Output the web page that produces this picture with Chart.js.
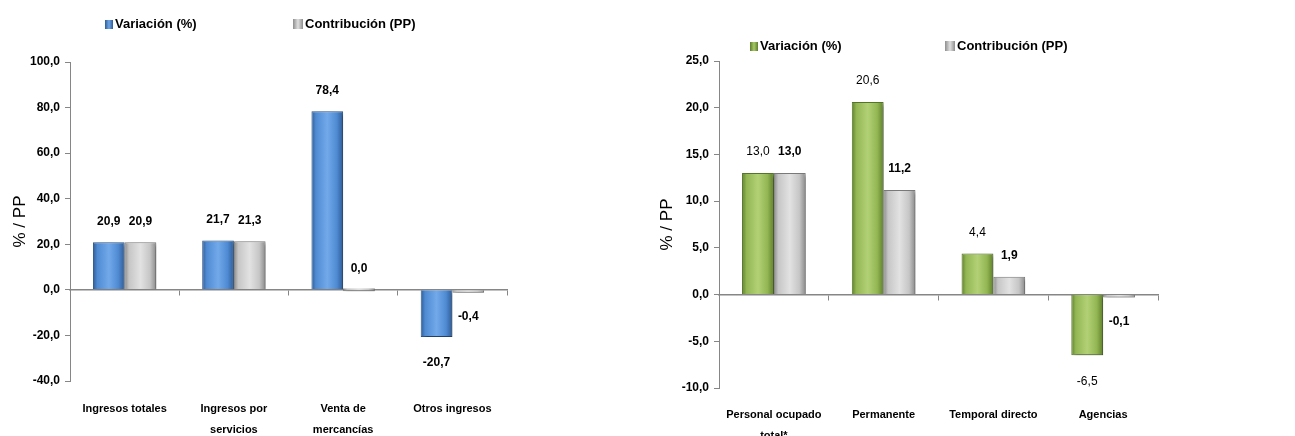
<!DOCTYPE html>
<html><head><meta charset="utf-8">
<script src="https://cdn.jsdelivr.net/npm/chart.js@4.4.1/dist/chart.umd.min.js"></script>
<style>
html,body{margin:0;padding:0;background:#fff;width:1295px;height:436px;overflow:hidden;}
.wrap{position:absolute;top:0;height:436px;}
.legend{position:absolute;font:bold 13px 'Liberation Sans',Arial,sans-serif;color:#000;white-space:nowrap;line-height:16px;}
.legend span{display:inline-flex;align-items:center;position:absolute;top:0;}
.legend i{display:inline-block;width:8px;height:9px;margin-right:2px;}
</style></head><body>
<div class="wrap" style="left:0;width:520px"><canvas id="c1" width="520" height="436"></canvas></div>
<div class="wrap" style="left:640px;width:530px"><canvas id="c2" width="530" height="436"></canvas></div>
<div class="legend" style="left:0;top:16px;width:640px;height:16px">
  <span style="left:105px"><i style="background:linear-gradient(90deg,#2E5C96,#6FA6E6,#2E5C96)"></i>Variación (%)</span>
  <span style="left:293px"><i style="background:linear-gradient(90deg,#8E8E8E,#E0E0E0,#8E8E8E);width:10px;height:10px"></i>Contribución (PP)</span>
</div>
<div class="legend" style="left:0;top:38px;width:1295px;height:16px">
  <span style="left:750px"><i style="background:linear-gradient(90deg,#5E7F2A,#A8C868,#5E7F2A)"></i>Variación (%)</span>
  <span style="left:945px"><i style="background:linear-gradient(90deg,#8E8E8E,#E0E0E0,#8E8E8E);width:10px;height:10px"></i>Contribución (PP)</span>
</div>
<script>
// ---- data ----
const leftCategories = ['Ingresos totales', ['Ingresos por', 'servicios'], ['Venta de', 'mercancías'], 'Otros ingresos'];
const leftVariacion = [20.9, 21.7, 78.4, -20.7];
const leftContribucion = [20.9, 21.3, 0.0, -0.4];
const leftAxisRange = [-40, 100, 20];

const rightCategories = [['Personal ocupado', 'total*'], 'Permanente', 'Temporal directo', 'Agencias'];
const rightVariacion = [13.0, 20.6, 4.4, -6.5];
const rightContribucion = [13.0, 11.2, 1.9, -0.1];
const rightAxisRange = [-10, 25, 5];

const seriesNames = ['Variación (%)', 'Contribución (PP)'];

// ---- helpers ----
const FONT = "'Liberation Sans', Arial, sans-serif";
function fmt(v) { return Number(v).toFixed(1).replace('.', ','); }

function barGradient(dark, mid, light) {
  return function (ctx) {
    const meta = ctx.chart.getDatasetMeta(ctx.datasetIndex);
    const el = meta && meta.data[ctx.dataIndex];
    if (!el || !isFinite(el.x) || !isFinite(el.width) || !el.width) return mid;
    const x0 = el.x - el.width / 2, x1 = el.x + el.width / 2;
    const g = ctx.chart.ctx.createLinearGradient(x0, 0, x1, 0);
    g.addColorStop(0, dark);
    g.addColorStop(0.14, mid);
    g.addColorStop(0.5, light);
    g.addColorStop(0.8, mid);
    g.addColorStop(1, dark);
    return g;
  };
}

const shadowPlugin = {
  id: 'barShadow',
  beforeDatasetsDraw(chart) {
    const c = chart.ctx;
    c.save();
    c.shadowColor = 'rgba(0,0,0,0.35)';
    c.shadowOffsetX = 3;
    c.shadowOffsetY = 2;
    c.shadowBlur = 3;
  },
  afterDatasetsDraw(chart) { chart.ctx.restore(); }
};

const valueLabels = {
  id: 'valueLabels',
  afterDatasetsDraw(chart) {
    const c = chart.ctx;
    const ys = chart.scales.y;
    chart.data.datasets.forEach((ds, di) => {
      const meta = chart.getDatasetMeta(di);
      meta.data.forEach((bar, i) => {
        const v = ds.data[i];
        const py = ys.getPixelForValue(v);
        c.save();
        c.font = (ds.labelBold ? 'bold ' : '') + '12px ' + FONT;
        c.fillStyle = '#000';
        c.textAlign = 'center';
        c.textBaseline = 'middle';
        c.fillText(fmt(v), bar.x, v >= 0 ? py - 21 : py + 26);
        c.restore();
      });
    });
  }
};

function makeChart(id, cats, s1, s2, range, colors1, boldFirst, geom) {
  const [min, max, step] = range;
  const chart = new Chart(document.getElementById(id), {
    type: 'bar',
    data: {
      labels: cats,
      datasets: [
        { label: seriesNames[0], data: s1, xAxisID: 'x', yAxisID: 'y',
          backgroundColor: barGradient(colors1[0], colors1[1], colors1[2]),
          borderColor: colors1[3], borderWidth: 1, labelBold: boldFirst,
          categoryPercentage: 0.58, barPercentage: 1 },
        { label: seriesNames[1], data: s2, xAxisID: 'x', yAxisID: 'y',
          backgroundColor: barGradient('#8A8A8A', '#C6C6C6', '#E2E2E2'),
          borderColor: '#7A7A7A', borderWidth: 1, labelBold: true, minBarLength: 3,
          categoryPercentage: 0.58, barPercentage: 1 }
      ]
    },
    options: {
      responsive: false,
      animation: false,
      layout: { padding: { top: geom.top, right: geom.right, left: 0, bottom: 0 } },
      plugins: { legend: { display: false }, tooltip: { enabled: false } },
      scales: {
        x: {
          offset: true,
          grid: { display: false },
          border: { display: false },
          ticks: { color: '#000', autoSkip: false, maxRotation: 0, padding: geom.xpad,
                   font: { family: FONT, size: 11, weight: 'bold', lineHeight: 1.85 } },
          afterFit(s) { s.height = geom.xh; }
        },
        x2: {
          type: 'category',
          labels: cats,
          offset: true,
          position: { y: 0 },
          grid: { display: true, offset: true, drawOnChartArea: false, drawTicks: true, tickLength: 5, color: '#868686', lineWidth: 1 },
          border: { display: true, color: '#868686', width: 1.5 },
          ticks: { display: false },
          afterFit(s) { s.height = 0; }
        },
        y: {
          min: min, max: max,
          ticks: { stepSize: step, color: '#000', padding: 5,
                   font: { family: FONT, size: 12, weight: 'bold' },
                   callback: v => fmt(v) },
          grid: { drawOnChartArea: false, drawTicks: true, tickLength: 5, color: '#868686' },
          border: { display: true, color: '#868686', width: 1 },
          title: { display: true, text: '% / PP', color: '#000',
                   font: { family: FONT, size: 17 }, padding: { top: geom.tpad, bottom: 0 } },
          afterFit(s) { s.width = geom.yw; }
        }
      }
    },
    plugins: [shadowPlugin, valueLabels]
  });
  chart.update('none');
  return chart;
}

makeChart('c1', leftCategories, leftVariacion, leftContribucion, leftAxisRange,
  ['#2E5C96', '#4F8AD2', '#72A9EA', '#2A5488'], true,
  { top: 62, right: 13, xh: 55, yw: 70, tpad: 10, xpad: 10 });

makeChart('c2', rightCategories, rightVariacion, rightContribucion, rightAxisRange,
  ['#5E7F2A', '#93B653', '#B2D176', '#55752A'], false,
  { top: 61, right: 12, xh: 48, yw: 79, tpad: 17, xpad: 9 });
</script>
</body></html>
